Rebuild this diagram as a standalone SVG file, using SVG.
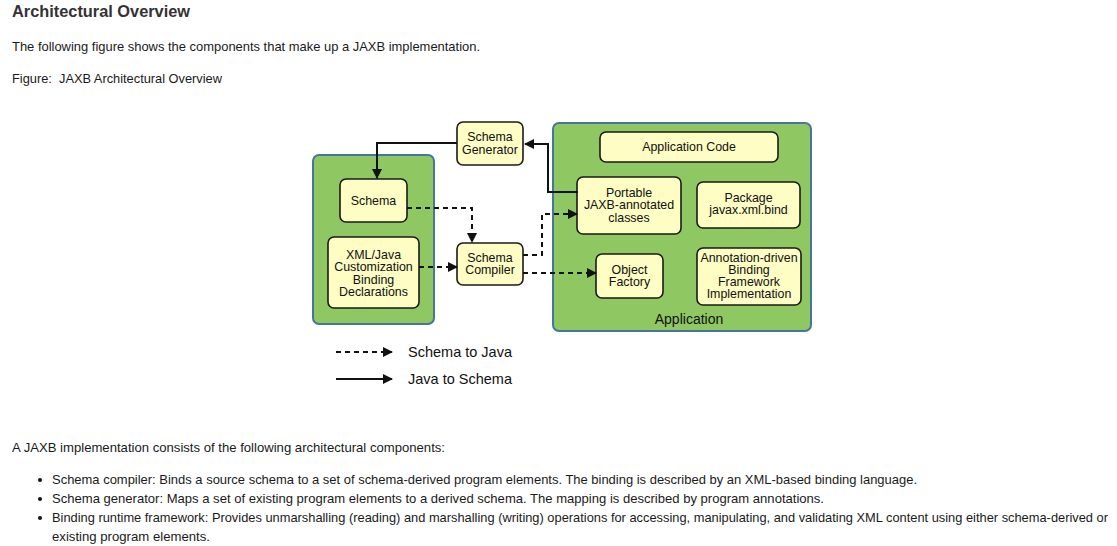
<svg xmlns="http://www.w3.org/2000/svg" width="1117" height="546" viewBox="0 0 1117 546">
<style>
.t{font-family:"Liberation Sans",Arial,sans-serif;font-size:13px;fill:#1a1a1a}
.h{font-family:"Liberation Sans",Arial,sans-serif;font-size:16px;font-weight:bold;fill:#333}
.grp{fill:#8fc763;stroke:#46769a;stroke-width:2}
.box{fill:#fdfdc4;stroke:#1a1a1a;stroke-width:1.6}
.bt{font-family:"Liberation Sans",Arial,sans-serif;font-size:12.4px;fill:#111;text-anchor:middle}
.gt{font-family:"Liberation Sans",Arial,sans-serif;font-size:14px;fill:#111;text-anchor:middle}
.lt{font-family:"Liberation Sans",Arial,sans-serif;font-size:14.5px;fill:#111}
.solid{fill:none;stroke:#111;stroke-width:2}
.dash{fill:none;stroke:#111;stroke-width:2;stroke-dasharray:5 4}
</style>
<defs>
<marker id="ah" markerWidth="10" markerHeight="10" refX="9" refY="5" orient="auto" markerUnits="userSpaceOnUse">
<path d="M0,0 L10,5 L0,10 Z" fill="#111"/>
</marker>
</defs>
<rect width="1117" height="546" fill="#fff"/>
<text class="h" x="12" y="17" textLength="178" lengthAdjust="spacingAndGlyphs">Architectural Overview</text>
<text class="t" x="12" y="51" textLength="468" lengthAdjust="spacingAndGlyphs">The following figure shows the components that make up a JAXB implementation.</text>
<text class="t" x="12" y="83" xml:space="preserve" textLength="210" lengthAdjust="spacingAndGlyphs">Figure:  JAXB Architectural Overview</text>

<g id="left-group"><rect class="grp" x="313" y="155" width="121" height="169" rx="6"/></g>
<g id="application"><rect class="grp" x="553" y="123" width="258" height="208" rx="6"/>
<text class="gt" x="689" y="324">Application</text></g>

<g id="schema-generator"><rect class="box" x="457" y="122" width="66" height="43" rx="6"/>
<text class="bt" x="490" y="141">Schema</text><text class="bt" x="490" y="154">Generator</text></g>
<g id="schema"><rect class="box" x="340" y="179" width="67" height="43" rx="6"/>
<text class="bt" x="373.5" y="205">Schema</text></g>
<g id="xml-java"><rect class="box" x="328" y="237" width="91" height="71" rx="6"/>
<text class="bt" x="373.5" y="259">XML/Java</text><text class="bt" x="373.5" y="271">Customization</text><text class="bt" x="373.5" y="284">Binding</text><text class="bt" x="373.5" y="296">Declarations</text></g>
<g id="schema-compiler"><rect class="box" x="457" y="243" width="66" height="42" rx="6"/>
<text class="bt" x="490" y="262">Schema</text><text class="bt" x="490" y="274">Compiler</text></g>
<g id="application-code"><rect class="box" x="600" y="132" width="178" height="30" rx="6"/>
<text class="bt" x="689" y="151">Application Code</text></g>
<g id="portable"><rect class="box" x="577" y="177" width="104" height="57" rx="6"/>
<text class="bt" x="629" y="197">Portable</text><text class="bt" x="629" y="209">JAXB-annotated</text><text class="bt" x="629" y="222">classes</text></g>
<g id="package"><rect class="box" x="697" y="182" width="103" height="46" rx="6"/>
<text class="bt" x="748.5" y="202">Package</text><text class="bt" x="748.5" y="214">javax.xml.bind</text></g>
<g id="object-factory"><rect class="box" x="596" y="254" width="67" height="44" rx="6"/>
<text class="bt" x="629.5" y="274">Object</text><text class="bt" x="629.5" y="286">Factory</text></g>
<g id="annotation-driven"><rect class="box" x="697" y="248" width="104" height="57" rx="6"/>
<text class="bt" x="749" y="262">Annotation-driven</text><text class="bt" x="749" y="274">Binding</text><text class="bt" x="749" y="286">Framework</text><text class="bt" x="749" y="298">Implementation</text></g>

<g id="connectors">
<path class="solid" d="M457,143 H377 V178" marker-end="url(#ah)"/>
<path class="solid" d="M578,192 H548 V144 H525" marker-end="url(#ah)"/>
<path class="dash" d="M407,208 H472 V242" marker-end="url(#ah)"/>
<path class="dash" d="M419,267 H457" marker-end="url(#ah)"/>
<path class="dash" d="M523,255 H542 V214 H577" marker-end="url(#ah)"/>
<path class="dash" d="M523,273 H596" marker-end="url(#ah)"/>
<path class="dash" d="M336,352 H392" marker-end="url(#ah)"/>
<path class="solid" d="M336,379 H392" marker-end="url(#ah)"/>
</g>
<text class="lt" x="408" y="357">Schema to Java</text>
<text class="lt" x="408" y="384">Java to Schema</text>

<text class="t" x="12" y="452" textLength="433" lengthAdjust="spacingAndGlyphs">A JAXB implementation consists of the following architectural components:</text>
<circle cx="40" cy="480" r="2" fill="#111"/>
<circle cx="40" cy="499" r="2" fill="#111"/>
<circle cx="40" cy="518" r="2" fill="#111"/>
<text class="t" x="52" y="484" textLength="865" lengthAdjust="spacingAndGlyphs">Schema compiler: Binds a source schema to a set of schema-derived program elements. The binding is described by an XML-based binding language.</text>
<text class="t" x="52" y="503" textLength="772" lengthAdjust="spacingAndGlyphs">Schema generator: Maps a set of existing program elements to a derived schema. The mapping is described by program annotations.</text>
<text class="t" x="52" y="522" style="font-size:12.8px" textLength="1056" lengthAdjust="spacingAndGlyphs">Binding runtime framework: Provides unmarshalling (reading) and marshalling (writing) operations for accessing, manipulating, and validating XML content using either schema-derived or</text>
<text class="t" x="52" y="541" textLength="158" lengthAdjust="spacingAndGlyphs">existing program elements.</text>
</svg>
